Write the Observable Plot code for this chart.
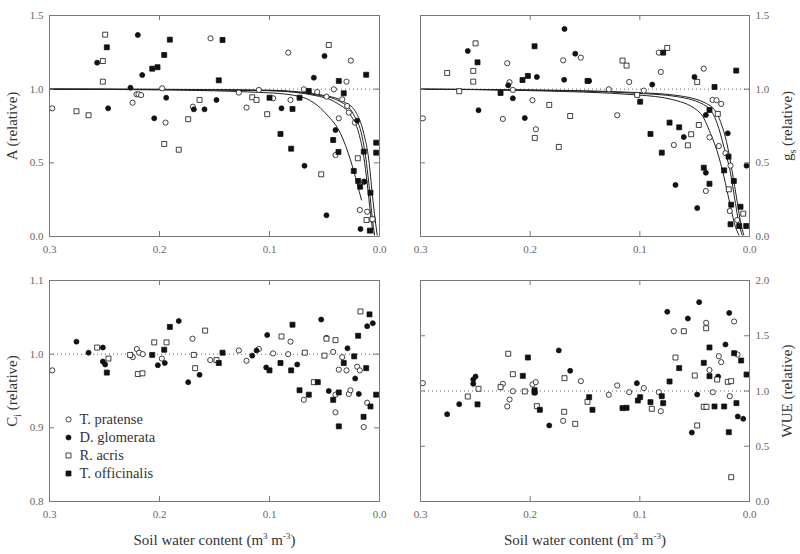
<!DOCTYPE html>
<html>
<head>
<meta charset="utf-8">
<script src="https://cdn.jsdelivr.net/npm/d3@7"></script>
<script src="https://cdn.jsdelivr.net/npm/@observablehq/plot@0.6"></script>
<style>
  body { margin: 0; background: white; }
  #chart { position: relative; width: 800px; height: 554px; background: white; }
  #chart svg { position: absolute; }
  #chart svg, #chart svg text { font-family: "Liberation Serif", "DejaVu Serif", serif !important; }
</style>
</head>
<body>
<div id="chart"></div>
<script>
// ---------- Data (soil water content, relative value) ----------
const species = ["T. pratense", "D. glomerata", "R. acris", "T. officinalis"];
const xTicks = [0.3, 0.2, 0.1, 0.0];
const yTicksTop = [0, 0.5, 1.0, 1.5];
const yTicksCi = [0.8, 0.9, 1.0, 1.1];
const yTicksWUE = [0, 0.5, 1.0, 1.5, 2.0];

// Panel A (net photosynthesis)
const A_Tp = [[0.2975,0.87],[0.2245,0.908],[0.2209,0.965],[0.2191,0.965],[0.2167,0.96],[0.1976,1.006],[0.1945,0.773],[0.1697,0.881],[0.1536,1.345],[0.1279,0.977],[0.1209,0.875],[0.1097,0.995],[0.0967,0.938],[0.083,1.248],[0.0809,0.927],[0.0688,0.999],[0.0566,0.981],[0.0482,0.949],[0.0415,0.999],[0.037,0.802],[0.04,0.553],[0.0339,0.931],[0.03,1.051],[0.0294,0.886],[0.0279,0.841],[0.0261,1.194],[0.0224,0.773],[0.0143,0.372],[0.0179,0.18],[0.0112,0.168]];
const A_Dg = [[0.2567,1.18],[0.2467,0.87],[0.2264,1.01],[0.2197,1.368],[0.2157,1.096],[0.2048,0.802],[0.1939,0.942],[0.1688,0.863],[0.1591,0.863],[0.1482,0.927],[0.0891,0.87],[0.0682,0.48],[0.0597,1.078],[0.05,1.225],[0.0482,0.144],[0.04,0.723],[0.0203,0.786],[0.0136,0.372],[0.0173,0.051]];
const A_Ra = [[0.2755,0.85],[0.2645,0.823],[0.2515,1.191],[0.2515,1.051],[0.2494,1.37],[0.1957,0.628],[0.1825,0.589],[0.1739,0.796],[0.1636,0.927],[0.1157,0.945],[0.1118,0.927],[0.1021,0.83],[0.0461,1.30],[0.053,0.422],[0.0197,0.531],[0.0118,0.112],[0.0064,0.117]];
const A_To = [[0.2479,1.284],[0.2066,1.139],[0.2018,1.149],[0.1957,1.232],[0.1906,1.336],[0.1461,1.06],[0.1427,1.334],[0.1,0.942],[0.09,0.696],[0.0791,0.866],[0.0803,0.596],[0.0727,0.942],[0.0643,0.988],[0.0421,0.655],[0.0373,0.574],[0.037,1.056],[0.0325,0.972],[0.0234,0.445],[0.0194,0.377],[0.0143,0.576],[0.0176,0.338],[0.0121,1.098],[0.0082,0.297],[0.0088,0.04],[0.003,0.637],[0.003,0.569]];
const A_fit1 = [[0.3,1.0],[0.2,0.995],[0.1,0.975],[0.0718,0.949],[0.0476,0.825],[0.0355,0.70],[0.0264,0.52],[0.0203,0.36],[0.0164,0.248]];
const A_fit2 = [[0.3,1.0],[0.2,0.998],[0.1,0.99],[0.0566,0.954],[0.0385,0.904],[0.0264,0.825],[0.0188,0.70],[0.0143,0.542],[0.0112,0.361],[0.0082,0.157],[0.0058,0.02]];
const A_fit3 = [[0.3,1.0],[0.2,0.998],[0.1,0.99],[0.0566,0.96],[0.0355,0.915],[0.0233,0.825],[0.0158,0.678],[0.0118,0.497],[0.0091,0.316],[0.0067,0.134],[0.0045,0.01]];
const A_fit4 = [[0.3,1.0],[0.2,0.999],[0.1,0.993],[0.0476,0.954],[0.0325,0.915],[0.0218,0.847],[0.0143,0.70],[0.0097,0.519],[0.0066,0.293],[0.0039,0.112],[0.0021,0.01]];

// Panel gs (stomatal conductance)
const G_Tp = [[0.2979,0.802],[0.2209,1.176],[0.2188,1.047],[0.2158,0.995],[0.2249,0.798],[0.1979,0.925],[0.1948,0.728],[0.1699,1.196],[0.1538,1.214],[0.1283,0.999],[0.1206,0.823],[0.1097,1.049],[0.0964,0.99],[0.0809,1.117],[0.069,0.621],[0.0827,1.248],[0.0417,1.139],[0.0398,0.309],[0.0365,0.673],[0.0337,0.927],[0.0301,0.925],[0.0258,0.90],[0.028,0.614],[0.0219,0.565],[0.0173,0.481],[0.018,0.173],[0.0112,0.112]];
const G_Dg = [[0.2569,1.259],[0.2471,0.857],[0.22,1.026],[0.2158,0.938],[0.2049,0.804],[0.1939,1.083],[0.1687,1.409],[0.169,1.064],[0.1589,1.241],[0.1462,1.056],[0.0887,1.031],[0.0599,0.675],[0.0675,0.35],[0.0502,1.083],[0.0477,0.193],[0.0398,0.825],[0.0398,0.433],[0.0198,0.70],[0.0027,0.481]];
const G_Ra = [[0.2757,1.11],[0.2647,0.986],[0.2519,1.124],[0.2519,1.051],[0.2498,1.311],[0.1958,0.669],[0.1826,0.893],[0.1739,0.608],[0.1635,0.818],[0.1158,1.194],[0.1121,1.16],[0.075,1.28],[0.1024,0.961],[0.0562,0.619],[0.0532,0.694],[0.0477,1.049],[0.0462,0.757],[0.0289,0.832],[0.0189,0.32],[0.0057,0.155]];
const G_To = [[0.248,1.182],[0.227,0.974],[0.207,1.062],[0.2021,1.09],[0.196,1.291],[0.1477,1.056],[0.0787,1.248],[0.0997,0.915],[0.0903,0.696],[0.08,0.569],[0.0729,0.773],[0.0641,0.741],[0.0417,0.467],[0.0365,0.859],[0.0365,0.358],[0.0319,1.015],[0.0231,0.449],[0.0191,0.542],[0.0143,0.377],[0.0167,0.216],[0.0121,1.126],[0.0082,0.202],[0.0173,0.083],[0.0094,0.071],[0.003,0.071]];
const G_fit1 = [[0.3,1.0],[0.2,0.99],[0.1024,0.961],[0.069,0.927],[0.0447,0.836],[0.0356,0.70],[0.028,0.542],[0.0219,0.361],[0.0173,0.202],[0.0128,0.066],[0.0097,0.01]];
const G_fit2 = [[0.3,1.0],[0.2,0.993],[0.1024,0.972],[0.0659,0.949],[0.0386,0.881],[0.0295,0.768],[0.0234,0.61],[0.0173,0.429],[0.0128,0.225],[0.0097,0.09],[0.0067,0.01]];
const G_fit3 = [[0.3,1.0],[0.2,0.995],[0.1024,0.977],[0.0629,0.954],[0.0356,0.886],[0.0264,0.779],[0.0203,0.621],[0.0158,0.44],[0.0112,0.236],[0.0082,0.10],[0.0052,0.01]];

// Panel Ci (intercellular CO2)
const C_Tp = [[0.2975,0.978],[0.2243,0.996],[0.2206,1.007],[0.2185,1.002],[0.2152,1.0],[0.1979,0.994],[0.17,1.021],[0.1539,0.992],[0.1279,1.005],[0.1209,0.991],[0.1097,1.007],[0.0967,1.001],[0.083,1.0],[0.0809,1.017],[0.0688,0.938],[0.04,0.945],[0.04,0.921],[0.037,0.979],[0.0421,1.003],[0.0339,0.996],[0.03,0.978],[0.0279,0.946],[0.0264,0.951],[0.0203,0.983],[0.0179,0.978],[0.0143,0.901],[0.0112,0.934]];
const C_Dg = [[0.2755,1.017],[0.2645,1.002],[0.2515,1.009],[0.2515,0.99],[0.2494,0.986],[0.2015,0.985],[0.1952,0.988],[0.1825,1.045],[0.1739,0.962],[0.1636,0.972],[0.1157,0.998],[0.1118,1.005],[0.1021,1.026],[0.103,0.982],[0.0748,0.986],[0.053,1.047],[0.0482,1.022],[0.0461,0.95],[0.0291,1.008],[0.0221,0.967],[0.0188,0.946],[0.0112,1.038],[0.0061,1.042]];
const C_Ra = [[0.2567,1.009],[0.2464,0.994],[0.2267,0.999],[0.2197,0.973],[0.2155,0.974],[0.2048,1.016],[0.1936,1.016],[0.1688,0.999],[0.1676,0.981],[0.1585,1.032],[0.1482,0.992],[0.0891,1.024],[0.0679,1.002],[0.0597,0.962],[0.05,0.998],[0.0482,1.021],[0.04,1.019],[0.0173,1.058]];
const C_To = [[0.2479,0.975],[0.2066,0.999],[0.1957,1.006],[0.1906,1.037],[0.1461,0.988],[0.1427,1.002],[0.1,0.978],[0.09,0.988],[0.0791,1.04],[0.0803,0.978],[0.0727,0.951],[0.0643,0.945],[0.0561,0.962],[0.0421,0.938],[0.037,0.948],[0.037,0.902],[0.0325,0.988],[0.023,0.997],[0.0194,1.025],[0.0145,0.915],[0.0121,0.981],[0.0091,1.054],[0.0082,0.929],[0.003,0.945]];

// Panel WUE
const W_Tp = [[0.2979,1.071],[0.2249,1.065],[0.2188,0.923],[0.2209,0.86],[0.2158,0.998],[0.1979,1.059],[0.1949,1.08],[0.1699,0.73],[0.1538,1.089],[0.1283,0.966],[0.1206,1.05],[0.1097,0.989],[0.0964,1.026],[0.0827,0.989],[0.0809,0.817],[0.069,1.541],[0.0395,1.617],[0.0365,1.19],[0.0335,0.989],[0.028,1.315],[0.0258,1.261],[0.018,0.953],[0.014,1.629],[0.0109,1.33]];
const W_Dg = [[0.2757,0.79],[0.2647,0.881],[0.2519,1.065],[0.2519,1.104],[0.2498,1.131],[0.1958,0.984],[0.1826,0.688],[0.1739,1.367],[0.1635,1.183],[0.1027,1.071],[0.075,1.717],[0.0562,1.656],[0.0526,0.624],[0.0477,0.968],[0.0459,1.804],[0.0286,1.131],[0.0219,1.421],[0.0185,1.707],[0.0107,0.769],[0.0057,0.748]];
const W_Ra = [[0.2569,0.95],[0.2471,1.02],[0.227,1.035],[0.22,1.337],[0.2158,1.152],[0.2049,0.996],[0.1939,0.863],[0.1687,1.116],[0.169,0.812],[0.1589,0.703],[0.1477,0.902],[0.0891,0.839],[0.0599,1.541],[0.0675,1.303],[0.0499,1.14],[0.0477,0.688],[0.0417,0.857],[0.0392,0.857],[0.0395,1.568],[0.0295,1.104],[0.0198,1.083],[0.0167,1.089],[0.0167,0.22]];
const W_To = [[0.248,0.879],[0.2067,1.137],[0.2021,1.303],[0.196,1.007],[0.196,0.989],[0.1912,0.83],[0.1462,0.944],[0.1432,0.83],[0.1158,0.845],[0.1121,0.848],[0.1018,0.914],[0.0997,0.944],[0.0903,0.899],[0.08,0.953],[0.0787,0.89],[0.0729,1.086],[0.0641,1.207],[0.0417,1.255],[0.0365,1.394],[0.0365,1.134],[0.0319,0.86],[0.0231,0.86],[0.0189,0.627],[0.014,1.342],[0.0119,0.89],[0.0076,1.276],[0.0027,1.149]];

// ---------- Styles ----------
const INK = "#111";
const AXIS = "#777";
const TICKTXT = "#666";
const TITLE = "#333";
const styles = [
  {symbol: "circle", fill: "white", r: 2.6},   // T. pratense (open circle)
  {symbol: "circle", fill: INK, r: 2.5},       // D. glomerata (filled circle)
  {symbol: "square", fill: "white", r: 2.8},   // R. acris (open square)
  {symbol: "square", fill: INK, r: 2.8}        // T. officinalis (filled square)
];
const fmt = d3.format(".1f");

function panel({sets, fits = [], yDomain, yTicks, side, yTitle, xTitle, height, marginLeft, marginRight, legend}) {
  const width = 400, marginTop = 15;
  const marginBottom = height - 236;
  const plotW = width - marginLeft - marginRight;
  const plotH = height - marginTop - marginBottom;
  const marks = [
    Plot.ruleY([1], {stroke: "#666", strokeWidth: 1, strokeDasharray: "1,3"}),
    ...fits.map(f => Plot.line(f, {x: d => d[0], y: d => d[1], stroke: "#222", strokeWidth: 1, curve: "monotone-x"})),
    ...sets.map((s, i) => Plot.dot(s, {x: d => d[0], y: d => d[1], symbol: styles[i].symbol, r: styles[i].r, fill: styles[i].fill, stroke: INK, strokeWidth: 0.8})),
    Plot.frame({stroke: AXIS, strokeWidth: 1}),
    // inward ticks on all four sides
    Plot.tickX(xTicks, {x: d => d, insetTop: plotH - 5, stroke: AXIS}),
    Plot.tickX(xTicks, {x: d => d, insetBottom: plotH - 5, stroke: AXIS}),
    Plot.tickY(yTicks, {y: d => d, insetRight: plotW - 5, stroke: AXIS}),
    Plot.tickY(yTicks, {y: d => d, insetLeft: plotW - 5, stroke: AXIS}),
    Plot.axisX(xTicks, {anchor: "bottom", tickSize: 0, tickPadding: 9, tickFormat: fmt, color: TICKTXT, fontSize: 11, label: null}),
    Plot.axisY(yTicks, {anchor: side, tickSize: 0, tickPadding: 6, tickFormat: fmt, color: TICKTXT, fontSize: 11, label: null}),
    Plot.text([yTitle], {text: d => d, frameAnchor: side, dx: side === "left" ? -37 : 38, rotate: -90, textAnchor: "middle", lineAnchor: "middle", fontSize: 15, fill: TITLE})
  ];
  if (xTitle) marks.push(Plot.text([xTitle], {text: d => d, frameAnchor: "bottom", dy: 39, textAnchor: "middle", lineAnchor: "middle", fontSize: 15, fill: TITLE}));
  if (legend) {
    species.forEach((name, i) => {
      marks.push(Plot.dot([name], {frameAnchor: "bottom-left", dx: 19, dy: -82 + 18 * i, symbol: styles[i].symbol, r: styles[i].r, fill: styles[i].fill, stroke: INK, strokeWidth: 0.8}));
      marks.push(Plot.text([name], {text: d => d, frameAnchor: "bottom-left", dx: 30, dy: -82 + 18 * i, textAnchor: "start", lineAnchor: "middle", fontSize: 14.5, fill: TITLE}));
    });
  }
  return Plot.plot({
    width, height, marginTop, marginBottom, marginLeft, marginRight,
    style: {background: "white", overflow: "visible"},
    x: {domain: [0.3, 0], axis: null},
    y: {domain: yDomain, axis: null},
    marks
  });
}

const xTitle = "Soil water content (m3 m-3)";
const charts = [
  {svg: panel({sets: [A_Tp, A_Dg, A_Ra, A_To], fits: [A_fit1, A_fit2, A_fit3, A_fit4], yDomain: [0, 1.5], yTicks: yTicksTop, side: "left", yTitle: "A (relative)", height: 265, marginLeft: 49, marginRight: 21}), left: 0, top: 0},
  {svg: panel({sets: [G_Tp, G_Dg, G_Ra, G_To], fits: [G_fit1, G_fit2, G_fit3], yDomain: [0, 1.5], yTicks: yTicksTop, side: "right", yTitle: "gs (relative)", height: 265, marginLeft: 20, marginRight: 51}), left: 400, top: 0},
  {svg: panel({sets: [C_Tp, C_Dg, C_Ra, C_To], yDomain: [0.8, 1.1], yTicks: yTicksCi, side: "left", yTitle: "Ci (relative)", xTitle, height: 289, marginLeft: 49, marginRight: 21, legend: true}), left: 0, top: 265},
  {svg: panel({sets: [W_Tp, W_Dg, W_Ra, W_To], yDomain: [0, 2.0], yTicks: yTicksWUE, side: "right", yTitle: "WUE (relative)", xTitle, height: 289, marginLeft: 20, marginRight: 51}), left: 400, top: 265}
];

// rich text (sub/superscripts) for titles
const rich = {
  "gs (relative)": 'g<tspan font-size="10" dy="4">s</tspan><tspan dy="-4"> (relative)</tspan>',
  "Ci (relative)": 'C<tspan font-size="10" dy="4">i</tspan><tspan dy="-4"> (relative)</tspan>',
  "Soil water content (m3 m-3)": 'Soil water content (m<tspan font-size="9" dy="-6">3</tspan><tspan dy="6"> m</tspan><tspan font-size="9" dy="-6">-3</tspan><tspan dy="6">)</tspan>'
};

const root = document.getElementById("chart");
for (const c of charts) {
  c.svg.style.left = c.left + "px";
  c.svg.style.top = c.top + "px";
  c.svg.querySelectorAll("text").forEach(t => {
    const k = t.textContent;
    if (rich[k]) t.innerHTML = rich[k];
  });
  root.appendChild(c.svg);
}
</script>
</body>
</html>
